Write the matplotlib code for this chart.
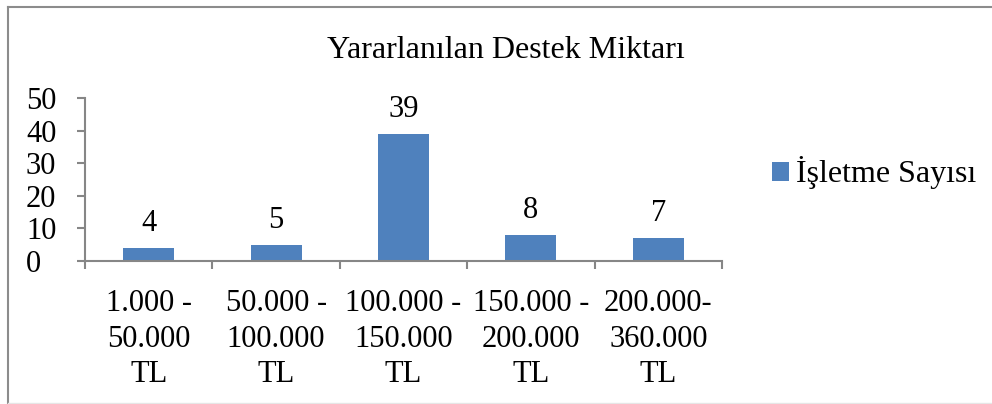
import matplotlib
matplotlib.use("Agg")
import matplotlib.pyplot as plt
from matplotlib.lines import Line2D

categories = ["1.000 -\n50.000\nTL", "50.000 -\n100.000\nTL", "100.000 -\n150.000\nTL",
              "150.000 -\n200.000\nTL", "200.000-\n360.000\nTL"]
values = [4, 5, 39, 8, 7]
yticks = [0, 10, 20, 30, 40, 50]
series_name = "İşletme Sayısı"
title = "Yararlanılan Destek Miktarı"

plt.rcParams['font.family'] = ['Liberation Serif', 'DejaVu Serif']

W, H = 992, 404
fig = plt.figure(figsize=(W / 100, H / 100), dpi=100)

# outer border
fig.add_artist(Line2D([8 / W, 8 / W], [0, 1 - 7 / H], transform=fig.transFigure, color='#8c8c8c', lw=1.5))
fig.add_artist(Line2D([8 / W, 1], [1 - 7 / H, 1 - 7 / H], transform=fig.transFigure, color='#8c8c8c', lw=1.5))
fig.add_artist(Line2D([8 / W, 1], [1.5 / H, 1.5 / H], transform=fig.transFigure, color='#e6e6e6', lw=1))

ax = fig.add_axes([85 / W, (H - 261) / H, (722 - 85) / W, (261 - 98) / H])
x = list(range(len(values)))
bars = ax.bar(x, values, width=0.4, color='#4F81BD', label=series_name, zorder=2)
ax.set_xlim(-0.5, len(values) - 0.5)
ax.set_ylim(0, 50)
ax.set_yticks(yticks)
ax.set_yticklabels([str(t) for t in yticks], fontsize=22, ha='left')
for lbl in ax.get_yticklabels():
    lbl.set_va('center_baseline')
ax.set_xticks(x)
ax.set_xticklabels(categories, fontsize=22, linespacing=1.31)
ax.set_xticks([i - 0.5 for i in range(len(values) + 1)], minor=True)
ax.tick_params(axis='x', which='major', length=0, pad=20)
ax.tick_params(axis='x', which='minor', length=5.5, width=1.5, color='#868686', direction='out')
ax.tick_params(axis='y', length=5.8, width=1.5, color='#868686', pad=36.7)
for s in ['top', 'right']:
    ax.spines[s].set_visible(False)
for s in ['left', 'bottom']:
    ax.spines[s].set_color('#868686')
    ax.spines[s].set_linewidth(1.5)

for b, v in zip(bars, values):
    ax.annotate(str(v), (b.get_x() + b.get_width() / 2, v), xytext=(0, 7),
                textcoords='offset points', ha='center', va='bottom', fontsize=22)

fig.text(506 / W, 1 - 51 / H, title, ha='center', va='center', fontsize=23)

fig.legend(handles=[bars], labels=[series_name], loc='center left',
           bbox_to_anchor=(759 / W, 1 - 173 / H), frameon=False, fontsize=23,
           handlelength=0.55, handleheight=0.55, handletextpad=0.2, borderaxespad=0)

fig.savefig("out.png", dpi=100)
